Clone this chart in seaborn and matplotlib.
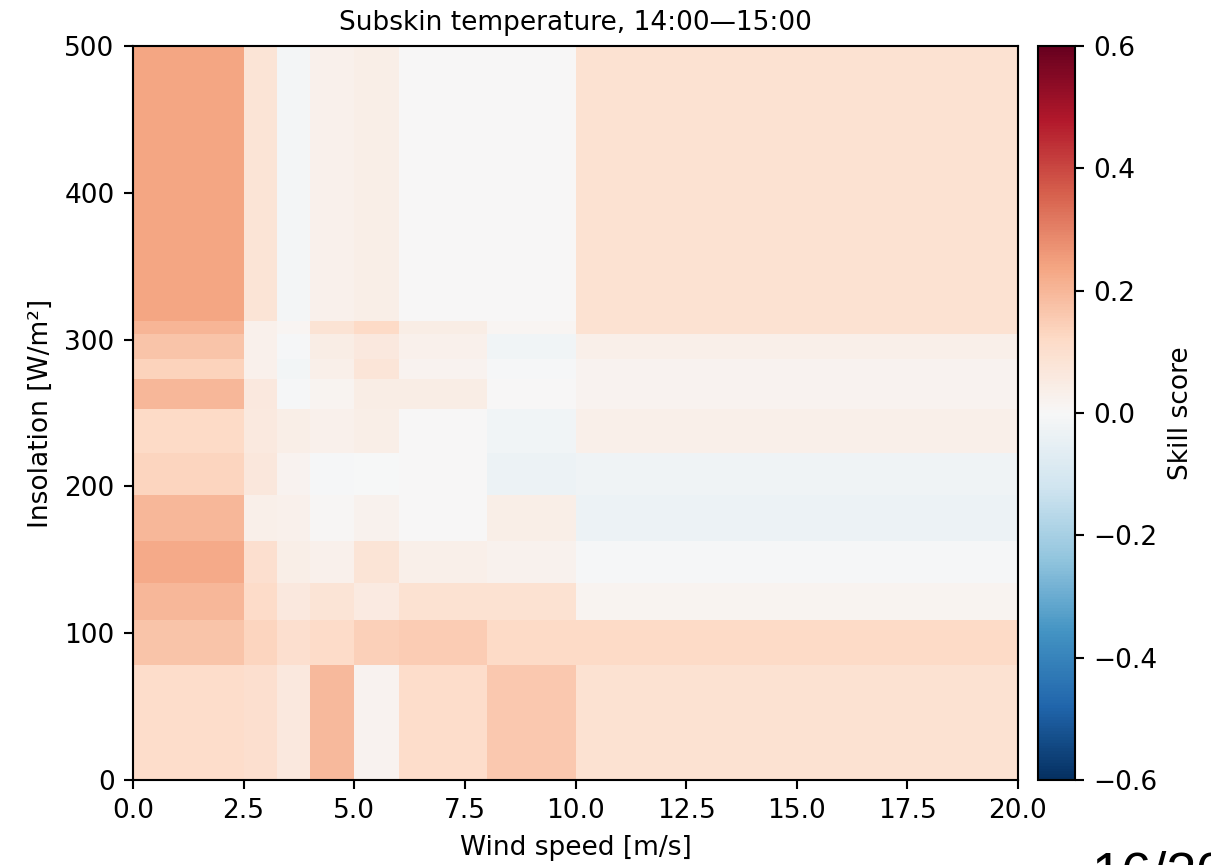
import numpy as np
import matplotlib
matplotlib.use("Agg")
import matplotlib.pyplot as plt
import seaborn as sns

# ---- data ----
wind_edges = [0, 2.5, 3.25, 4, 5, 6, 8, 10, 20]            # m/s
insolation_edges = [0, 78, 109, 134, 163, 194, 222.5, 253, 273, 287, 304, 313, 500]  # W/m^2

# skill score per insolation bin (bottom -> top), one value per wind bin
skill_row00 = [0.11, 0.10, 0.065, 0.195, 0.02, 0.11, 0.16, 0.09]
skill_row01 = [0.17, 0.135, 0.10, 0.115, 0.145, 0.15, 0.12, 0.12]
skill_row02 = [0.20, 0.115, 0.065, 0.08, 0.055, 0.09, 0.09, 0.015]
skill_row03 = [0.229, 0.10, 0.04, 0.03, 0.08, 0.035, 0.025, -0.005]
skill_row04 = [0.198, 0.035, 0.03, 0.005, 0.025, 0.0, 0.04, -0.035]
skill_row05 = [0.135, 0.07, 0.02, -0.005, -0.003, 0.0, -0.035, -0.025]
skill_row06 = [0.118, 0.06, 0.04, 0.03, 0.04, 0.0, -0.02, 0.035]
skill_row07 = [0.20, 0.064, -0.005, 0.015, 0.045, 0.045, 0.0, 0.02]
skill_row08 = [0.138, 0.03, -0.015, 0.035, 0.075, 0.02, -0.008, 0.02]
skill_row09 = [0.173, 0.03, -0.005, 0.045, 0.065, 0.03, -0.02, 0.035]
skill_row10 = [0.205, 0.03, 0.01, 0.085, 0.12, 0.045, 0.01, 0.09]
skill_row11 = [0.235, 0.081, -0.01, 0.03, 0.04, 0.0, 0.0, 0.09]

title = "Subskin temperature, 14:00\u201415:00"
xlabel = "Wind speed [m/s]"
ylabel = "Insolation [W/m\u00b2]"
cbar_label = "Skill score"
page_label = "16/20"

skill = np.array([skill_row00, skill_row01, skill_row02, skill_row03,
                  skill_row04, skill_row05, skill_row06, skill_row07,
                  skill_row08, skill_row09, skill_row10, skill_row11])

# ---- style ----
sns.set_style("ticks", {"axes.edgecolor": "black", "text.color": "black",
                        "axes.labelcolor": "black", "xtick.color": "black",
                        "ytick.color": "black"})
plt.rcParams["font.family"] = ["DejaVu Sans"]
plt.rcParams["font.size"] = 10

W, H, DPI = 1211, 865, 190
fig = plt.figure(figsize=(W / DPI, H / DPI), dpi=DPI)
ax = fig.add_axes([133 / W, 1 - 780 / H, (1018 - 133) / W, (780 - 46) / H])
cax = fig.add_axes([1038 / W, 1 - 780 / H, 37 / W, (780 - 46) / H])

X, Y = np.meshgrid(wind_edges, insolation_edges)
mesh = ax.pcolormesh(X, Y, skill, cmap="RdBu_r", vmin=-0.6, vmax=0.6,
                     shading="flat", antialiased=False, edgecolors="none")
ax.set_xlim(0, 20)
ax.set_ylim(0, 500)
ax.set_xticks(np.arange(0, 20.01, 2.5))
ax.set_yticks(np.arange(0, 501, 100))
ax.set_xlabel(xlabel)
ax.set_ylabel(ylabel)
ax.set_title(title, fontsize=10)
for s in ax.spines.values():
    s.set_visible(True)

cb = fig.colorbar(mesh, cax=cax)
cb.set_ticks([-0.6, -0.4, -0.2, 0.0, 0.2, 0.4, 0.6])
cb.set_label(cbar_label)

fig.text(1092 / W, 1 - 889 / H, page_label, fontsize=20.5,
         family=["Liberation Sans", "DejaVu Sans"], ha="left", va="baseline")

fig.savefig("out.png", dpi=DPI)
